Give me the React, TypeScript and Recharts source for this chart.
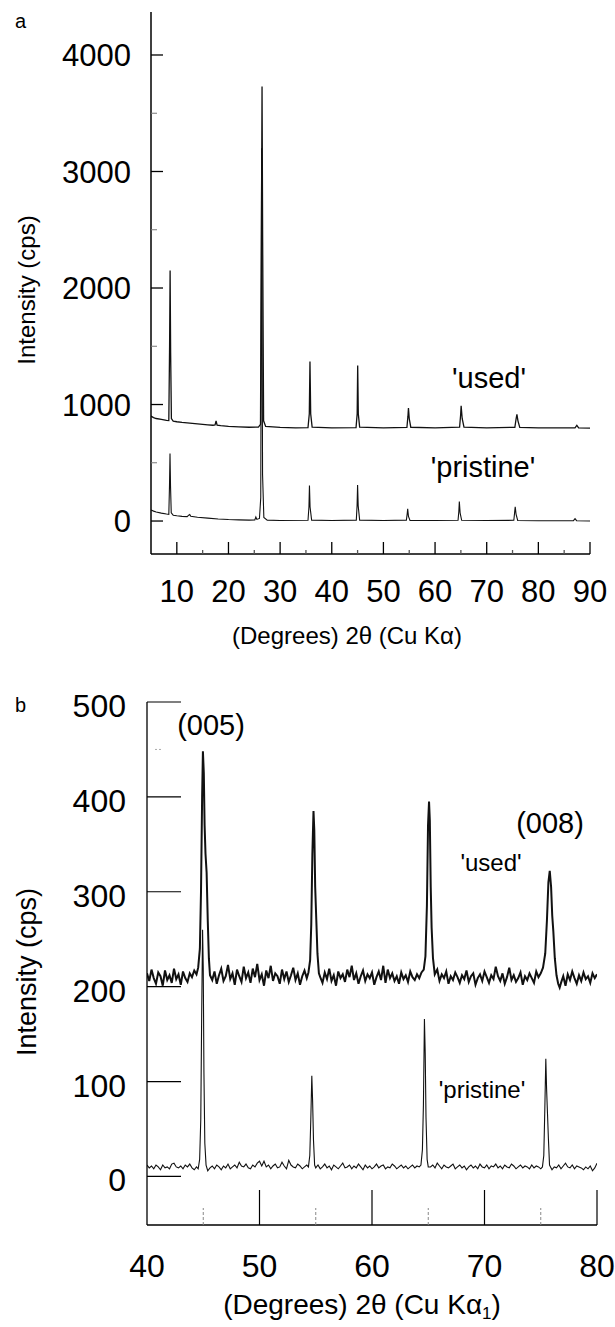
import React from "react";
import { LineChart, Line, XAxis, YAxis } from "recharts";

const FONT = "'Liberation Sans', Arial, Helvetica, sans-serif";

// panel a: wide scan, [2theta, cps]
const usedA = [
  [5, 900], [5.5, 888], [6, 880], [7, 872], [8, 864], [8.45, 862], [8.6, 1500], [8.7, 2150], [8.8, 1450], [8.95, 880],
  [9.3, 858], [10, 852], [11, 846], [12, 842], [13, 838], [14, 834], [15, 830], [16, 826], [17, 822], [17.4, 824],
  [17.6, 860], [17.8, 822], [18.5, 818], [20, 812], [22, 808], [24, 805], [25.8, 806], [26.2, 830], [26.38, 2500],
  [26.5, 3730], [26.62, 2400], [26.8, 860], [27.2, 812], [30, 803], [33, 800], [35.4, 802], [35.65, 920], [35.78, 1370],
  [35.92, 920], [36.2, 806], [40, 800], [44.7, 802], [44.92, 920], [45.02, 1335], [45.14, 920], [45.4, 806], [50, 800],
  [54.55, 803], [54.75, 900], [54.85, 970], [55, 880], [55.3, 805], [60, 800], [64.75, 805], [64.95, 910], [65.05, 990],
  [65.25, 880], [65.6, 805], [70, 800], [75.45, 805], [75.7, 880], [75.85, 915], [76.05, 860], [76.4, 804], [80, 800],
  [87.1, 800], [87.45, 822], [87.8, 800], [90, 798],
];

const pristineA = [
  [5, 95], [5.5, 85], [6, 78], [7, 68], [8, 60], [8.45, 58], [8.58, 300], [8.68, 580], [8.78, 300], [8.92, 70],
  [9.3, 50], [10, 45], [11, 40], [12, 38], [12.3, 50], [12.5, 56], [12.7, 40], [14, 32], [16, 25], [18, 18], [20, 13],
  [22, 10], [24, 8], [25.1, 10], [25.3, 35], [25.5, 14], [26, 22], [26.25, 200], [26.42, 3200], [26.6, 400], [26.85, 30],
  [27.5, 8], [30, 5], [35.4, 7], [35.58, 120], [35.68, 305], [35.8, 120], [36.1, 8], [40, 5], [44.75, 8], [44.9, 130],
  [45, 310], [45.12, 130], [45.4, 8], [50, 5], [54.45, 8], [54.6, 60], [54.7, 104], [54.85, 40], [55.15, 6], [60, 4],
  [64.45, 6], [64.6, 80], [64.7, 168], [64.85, 70], [65.15, 6], [70, 4], [75.25, 6], [75.42, 80], [75.52, 123],
  [75.68, 60], [76, 5], [80, 3], [86.8, 3], [87.1, 20], [87.4, 3], [90, 0],
];

// panel b: slow scan 40-80
const usedB = [
  [40, 214], [40.2, 206], [40.4, 218], [40.6, 209], [40.8, 203], [41, 215], [41.2, 211], [41.4, 201], [41.6, 217], [41.8, 207],
  [42, 212], [42.2, 204], [42.4, 219], [42.6, 208], [42.8, 213], [43, 202], [43.2, 216], [43.4, 209], [43.6, 205], [43.8, 214],
  [44, 210], [44.2, 217], [44.4, 213],
  [44.55, 220], [44.7, 240], [44.8, 300], [44.9, 400], [44.97, 448], [45.05, 425], [45.12, 370], [45.2, 340], [45.3, 320],
  [45.4, 270], [45.5, 230], [45.6, 212],
  [45.8, 207], [46, 216], [46.2, 203], [46.4, 212], [46.6, 219], [46.8, 206], [47, 211], [47.2, 223], [47.4, 208], [47.6, 214],
  [47.8, 202], [48, 218], [48.2, 211], [48.4, 205], [48.6, 221], [48.8, 209], [49, 215], [49.2, 204], [49.4, 219], [49.6, 210],
  [49.8, 224], [50, 207], [50.2, 213], [50.4, 201], [50.6, 217], [50.8, 209], [51, 222], [51.2, 206], [51.4, 214], [51.6, 211],
  [51.8, 203], [52, 218], [52.2, 208], [52.4, 216], [52.6, 205], [52.8, 212], [53, 220], [53.2, 207], [53.4, 214], [53.6, 202],
  [53.8, 211], [54, 217], [54.2, 209],
  [54.35, 215], [54.5, 228], [54.6, 265], [54.7, 340], [54.8, 385], [54.87, 365], [54.95, 305], [55.05, 270], [55.15, 235],
  [55.28, 214],
  [55.4, 210], [55.6, 204], [55.8, 215], [56, 208], [56.2, 219], [56.4, 206], [56.6, 212], [56.8, 201], [57, 216], [57.2, 209],
  [57.4, 213], [57.6, 205], [57.8, 218], [58, 210], [58.2, 222], [58.4, 207], [58.6, 214], [58.8, 203], [59, 211], [59.2, 217],
  [59.4, 206], [59.6, 213], [59.8, 209], [60, 215], [60.2, 202], [60.4, 210], [60.6, 216], [60.8, 207], [61, 222], [61.2, 204],
  [61.4, 218], [61.6, 209], [61.8, 214], [62, 206], [62.2, 211], [62.4, 203], [62.6, 215], [62.8, 208], [63, 212], [63.2, 205],
  [63.4, 216], [63.6, 210], [63.8, 207], [64, 213], [64.2, 209], [64.4, 215],
  [64.6, 218], [64.75, 232], [64.88, 285], [64.98, 370], [65.07, 395], [65.14, 375], [65.22, 305], [65.3, 262], [65.42, 230],
  [65.58, 213],
  [65.8, 218], [66, 206], [66.2, 213], [66.4, 209], [66.6, 216], [66.8, 203], [67, 211], [67.2, 207], [67.4, 215], [67.6, 210],
  [67.8, 204], [68, 212], [68.2, 208], [68.4, 217], [68.6, 205], [68.8, 211], [69, 214], [69.2, 202], [69.4, 209], [69.6, 213],
  [69.8, 206], [70, 216], [70.2, 210], [70.4, 204], [70.6, 212], [70.8, 208], [71, 221], [71.2, 211], [71.4, 206], [71.6, 214],
  [71.8, 203], [72, 210], [72.2, 220], [72.4, 207], [72.6, 212], [72.8, 205], [73, 209], [73.2, 215], [73.4, 202], [73.6, 211],
  [73.8, 207], [74, 214], [74.2, 209], [74.4, 204], [74.6, 216], [74.8, 210],
  [75, 214], [75.2, 220], [75.4, 235], [75.55, 270], [75.68, 310], [75.8, 322], [75.92, 305], [76.02, 275], [76.12, 258],
  [76.25, 230], [76.4, 212], [76.55, 203], [76.68, 199],
  [76.8, 204], [77, 211], [77.2, 201], [77.4, 213], [77.6, 207], [77.8, 216], [78, 209], [78.2, 203], [78.4, 212], [78.6, 206],
  [78.8, 215], [79, 208], [79.2, 211], [79.4, 204], [79.6, 214], [79.8, 209], [80, 213],
];

const pristineB = [
  [40, 12], [40.2, 9], [40.4, 11], [40.6, 8], [40.8, 12], [41, 10], [41.2, 7], [41.4, 12], [41.6, 9], [41.8, 10],
  [42, 8], [42.2, 13], [42.4, 14], [42.6, 10], [42.8, 9], [43, 11], [43.2, 8], [43.4, 12], [43.6, 10], [43.8, 13],
  [44, 9], [44.2, 7], [44.4, 10],
  [44.55, 8], [44.68, 18], [44.78, 60], [44.86, 170], [44.94, 260], [45, 220], [45.06, 110], [45.14, 35], [45.25, 12],
  [45.4, 6], [45.6, 9], [45.8, 11], [46, 8], [46.2, 12], [46.4, 10], [46.6, 7], [46.8, 11], [47, 9], [47.2, 13],
  [47.4, 8], [47.6, 10], [47.8, 12], [48, 9], [48.2, 15], [48.4, 11], [48.6, 10], [48.8, 13], [49, 9], [49.2, 8],
  [49.4, 12], [49.6, 10], [49.8, 14], [50, 16], [50.2, 11], [50.4, 16], [50.6, 10], [50.8, 12], [51, 8], [51.2, 11],
  [51.4, 13], [51.6, 9], [51.8, 10], [52, 15], [52.2, 11], [52.4, 8], [52.6, 17], [52.8, 12], [53, 10], [53.2, 9],
  [53.4, 13], [53.6, 11], [53.8, 8], [54, 10], [54.2, 12],
  [54.35, 10], [54.47, 22], [54.56, 60], [54.65, 106], [54.72, 80], [54.8, 38], [54.9, 12],
  [55, 9], [55.2, 12], [55.4, 8], [55.6, 10], [55.8, 13], [56, 9], [56.2, 11], [56.4, 7], [56.6, 12], [56.8, 10],
  [57, 8], [57.2, 11], [57.4, 14], [57.6, 9], [57.8, 10], [58, 12], [58.2, 8], [58.4, 11], [58.6, 9], [58.8, 13],
  [59, 10], [59.2, 7], [59.4, 12], [59.6, 9], [59.8, 11], [60, 8], [60.2, 10], [60.4, 13], [60.6, 9], [60.8, 11],
  [61, 12], [61.2, 8], [61.4, 10], [61.6, 9], [61.8, 13], [62, 11], [62.2, 8], [62.4, 10], [62.6, 12], [62.8, 9],
  [63, 11], [63.2, 8], [63.4, 10], [63.6, 12], [63.8, 9], [64, 11], [64.2, 10],
  [64.35, 12], [64.48, 28], [64.57, 75], [64.66, 166], [64.73, 130], [64.8, 62], [64.9, 18], [65, 10],
  [65.2, 10], [65.4, 12], [65.6, 9], [65.8, 14], [66, 11], [66.2, 8], [66.4, 12], [66.6, 10], [66.8, 9], [67, 11],
  [67.2, 13], [67.4, 8], [67.6, 10], [67.8, 12], [68, 9], [68.2, 11], [68.4, 7], [68.6, 10], [68.8, 12], [69, 9],
  [69.2, 11], [69.4, 8], [69.6, 13], [69.8, 10], [70, 9], [70.2, 12], [70.4, 8], [70.6, 11], [70.8, 10], [71, 13],
  [71.2, 9], [71.4, 11], [71.6, 8], [71.8, 12], [72, 10], [72.2, 9], [72.4, 13], [72.6, 11], [72.8, 8], [73, 10],
  [73.2, 12], [73.4, 9], [73.6, 11], [73.8, 10], [74, 8], [74.2, 12], [74.4, 9], [74.6, 11], [74.8, 10], [75, 8],
  [75.15, 10], [75.27, 22], [75.36, 70], [75.45, 124], [75.52, 92], [75.6, 66], [75.68, 40], [75.78, 12],
  [76, 7], [76.2, 10], [76.4, 9], [76.6, 12], [76.8, 8], [77, 11], [77.2, 14], [77.4, 10], [77.6, 9], [77.8, 12],
  [78, 8], [78.2, 11], [78.4, 10], [78.6, 9], [78.8, 7], [79, 10], [79.2, 8], [79.4, 11], [79.6, 6], [79.8, 9], [80, 14],
];

const aXTicks = [5, 10, 15, 20, 25, 30, 35, 40, 45, 50, 55, 60, 65, 70, 75, 80, 85, 90];
const aYTicks = [0, 500, 1000, 1500, 2000, 2500, 3000, 3500, 4000];
const bXTicks = [40, 45, 50, 55, 60, 65, 70, 75, 80];
const bYTicks = [0, 100, 200, 300, 400, 450, 500];

const toPts = (arr) => arr.map(([x, y]) => ({ x, y }));

const AXTick = (props: any) => {
  const { x, y, payload } = props;
  const v = payload.value;
  const major = v % 10 === 0;
  return (
    <g>
      {v !== 5 && (
        <line x1={x} y1={y} x2={x} y2={y - (major ? 12 : 4)} stroke={major ? "#000" : "#555"} strokeWidth={1.3} />
      )}
      {major && (
        <text x={x} y={y} dy={48} textAnchor="middle" fontSize={31} fill="#000" fontFamily={FONT}>
          {v}
        </text>
      )}
    </g>
  );
};

const AYTick = (props: any) => {
  const { x, y, payload } = props;
  const v = payload.value;
  const major = v % 1000 === 0;
  return (
    <g>
      <line x1={x} y1={y} x2={x + (major ? 12 : 6)} y2={y} stroke={major ? "#000" : "#777"} strokeWidth={major ? 1.3 : 1} />
      {major && (
        <text x={x - 20} y={y} dy={11} textAnchor="end" fontSize={31} fill="#000" fontFamily={FONT}>
          {v}
        </text>
      )}
    </g>
  );
};

const BXTick = (props: any) => {
  const { x, y, payload } = props;
  const v = payload.value;
  const major = v % 10 === 0;
  return (
    <g>
      {major && v !== 40 && <line x1={x} y1={y} x2={x} y2={y - 35} stroke="#000" strokeWidth={1.2} />}
      {!major && (
        <line x1={x} y1={y} x2={x} y2={y - 17} stroke="#888" strokeWidth={1} strokeDasharray="3 2" />
      )}
      {major && (
        <text x={x} y={y} dy={52} textAnchor="middle" fontSize={32} fill="#000" fontFamily={FONT}>
          {v}
        </text>
      )}
    </g>
  );
};

const BYTick = (props: any) => {
  const { x, y, payload } = props;
  const v = payload.value;
  const major = v % 100 === 0;
  if (!major) {
    return <line x1={x + 8} y1={y} x2={x + 16} y2={y} stroke="#aaa" strokeWidth={1} strokeDasharray="2 2" />;
  }
  return (
    <g>
      <line x1={x} y1={y} x2={x + 34} y2={y} stroke="#000" strokeWidth={1.2} />
      <text x={x - 21} y={y} dy={15} textAnchor="end" fontSize={32} fill="#000" fontFamily={FONT}>
        {v}
      </text>
    </g>
  );
};

const axisStyle = { stroke: "#000", strokeWidth: 1.5 };

export default function App() {
  return (
    <div style={{ position: "absolute", left: 0, top: 0, width: 615, height: 1327, background: "#fff" }}>
      <div style={{ position: "absolute", left: 0, top: 0 }}>
        <LineChart width={615} height={660} margin={{ top: 12, right: 25, bottom: 6, left: 0 }}>
          <XAxis
            type="number"
            dataKey="x"
            domain={[5, 90]}
            ticks={aXTicks}
            interval={0}
            tickSize={0}
            tickMargin={0}
            tickLine={false}
            axisLine={axisStyle}
            tick={AXTick}
            height={100}
            allowDataOverflow
          />
          <YAxis
            type="number"
            dataKey="y"
            domain={[-283, 4369]}
            ticks={aYTicks}
            interval={0}
            tickSize={0}
            tickMargin={0}
            tickLine={false}
            axisLine={axisStyle}
            tick={AYTick}
            width={151}
            allowDataOverflow
          />
          <Line data={toPts(usedA)} dataKey="y" stroke="#111" strokeWidth={1.3} dot={false} isAnimationActive={false} />
          <Line data={toPts(pristineA)} dataKey="y" stroke="#111" strokeWidth={1.1} dot={false} isAnimationActive={false} />
        </LineChart>
      </div>

      <div style={{ position: "absolute", left: 0, top: 660 }}>
        <LineChart width={615} height={667} margin={{ top: 42, right: 18, bottom: 2, left: 0 }}>
          <XAxis
            type="number"
            dataKey="x"
            domain={[40, 80]}
            ticks={bXTicks}
            interval={0}
            tickSize={0}
            tickMargin={0}
            tickLine={false}
            axisLine={{ stroke: "#000", strokeWidth: 1.3 }}
            tick={BXTick}
            height={100}
            allowDataOverflow
          />
          <YAxis
            type="number"
            dataKey="y"
            domain={[-51.2, 500]}
            ticks={bYTicks}
            interval={0}
            tickSize={0}
            tickMargin={0}
            tickLine={false}
            axisLine={{ stroke: "#000", strokeWidth: 1.3 }}
            tick={BYTick}
            width={147}
            allowDataOverflow
          />
          <Line data={toPts(usedB)} dataKey="y" stroke="#111" strokeWidth={2} dot={false} isAnimationActive={false} />
          <Line data={toPts(pristineB)} dataKey="y" stroke="#111" strokeWidth={1.1} dot={false} isAnimationActive={false} />
        </LineChart>
      </div>

      <svg
        width={615}
        height={1327}
        style={{ position: "absolute", left: 0, top: 0, pointerEvents: "none" }}
        fontFamily={FONT}
        fill="#000"
      >
        {/* panel a */}
        <text x={15} y={28} fontSize={20}>a</text>
        <text x={26} y={290} fontSize={24} textAnchor="middle" dominantBaseline="central" transform="rotate(-90 26 290)">
          Intensity (cps)
        </text>
        <text x={347} y={644} fontSize={24} textAnchor="middle">(Degrees) 2θ (Cu Kα)</text>
        <text x={489} y={388} fontSize={29} textAnchor="middle">'used'</text>
        <text x={483} y={477} fontSize={29} textAnchor="middle">'pristine'</text>

        {/* panel b */}
        <text x={15} y={712} fontSize={20}>b</text>
        <text x={27} y={972} fontSize={27} textAnchor="middle" dominantBaseline="central" transform="rotate(-90 27 972)">
          Intensity (cps)
        </text>
        <text x={362} y={1314} fontSize={28} textAnchor="middle">
          (Degrees) 2θ (Cu Kα
          <tspan fontSize={17} dy={5}>1</tspan>
          <tspan dy={-5}>)</tspan>
        </text>
        <text x={211} y={735} fontSize={29} textAnchor="middle">(005)</text>
        <text x={550} y={833} fontSize={29} textAnchor="middle">(008)</text>
        <text x={491} y={871} fontSize={24} textAnchor="middle">'used'</text>
        <text x={482} y={1098} fontSize={24} textAnchor="middle">'pristine'</text>
      </svg>
    </div>
  );
}
